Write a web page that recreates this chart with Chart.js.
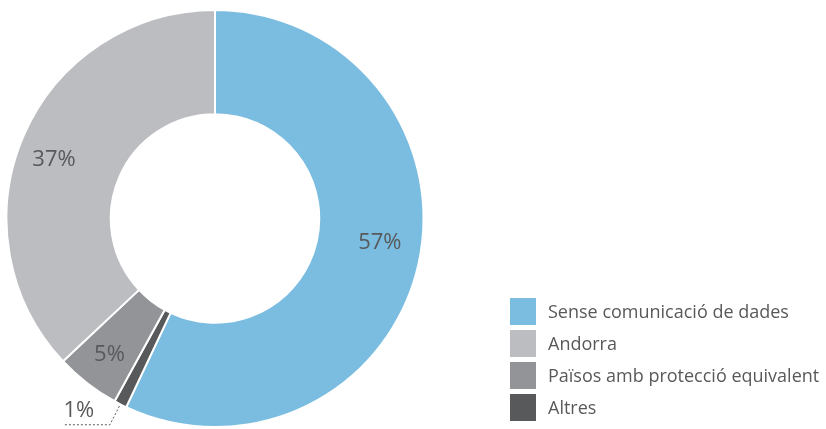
<!DOCTYPE html>
<html>
<head>
<meta charset="utf-8">
<script src="https://cdn.jsdelivr.net/npm/chart.js@4"></script>
<style>
  html, body { margin: 0; padding: 0; background: #fff; }
  #wrap { position: relative; width: 826px; height: 429px; }
  #legend { position: absolute; left: 510px; top: 295px; font-family: "Open Sans", sans-serif; font-size: 18px; color: #58595b; }
  .row { display: flex; align-items: center; height: 32px; }
  .box { width: 26px; height: 27px; margin-right: 12px; }
</style>
</head>
<body>
<div id="wrap">
  <canvas id="donut" width="826" height="429"></canvas>
  <div id="legend"></div>
</div>
<script>
const labels = ["Sense comunicació de dades", "Altres", "Països amb protecció equivalent", "Andorra"];
const values = [57, 1, 5, 37];
const colors = ["#7abde0", "#58595b", "#929497", "#bcbdc0"];
const legendOrder = [0, 3, 2, 1];

const legend = document.getElementById("legend");
legendOrder.forEach(i => {
    const row = document.createElement("div");
    row.className = "row";
    row.innerHTML = `<div class="box" style="background:${colors[i]}"></div><span>${labels[i]}</span>`;
    legend.appendChild(row);
});

// label nudges (px) so the text sits where the original artwork put it
const nudge = [[0, -13], [0, 0], [-2, 3], [-6, 8]];

const pctLabels = {
    id: "pctLabels",
    afterDatasetsDraw(chart) {
        const ctx = chart.ctx;
        const meta = chart.getDatasetMeta(0);
        ctx.save();
        ctx.font = "22px 'Open Sans', sans-serif";
        ctx.fillStyle = "#58595b";
        ctx.textAlign = "center";
        ctx.textBaseline = "middle";
        meta.data.forEach((arc, i) => {
            const mid = (arc.startAngle + arc.endAngle) / 2;
            const txt = values[i] + "%";
            if (values[i] < 3) {
                // small slice: label outside with dotted leader
                const r0 = arc.outerRadius;
                const x0 = arc.x + Math.cos(mid) * (r0 + 2);
                const y0 = arc.y + Math.sin(mid) * (r0 + 2);
                const x1 = arc.x + Math.cos(mid) * (r0 + 23);
                const y1 = arc.y + Math.sin(mid) * (r0 + 23);
                ctx.strokeStyle = "#58595b";
                ctx.lineWidth = 1;
                ctx.setLineDash([2, 2]);
                ctx.beginPath();
                ctx.moveTo(x0, y0);
                ctx.lineTo(x1, y1);
                ctx.lineTo(x1 - 46, y1);
                ctx.stroke();
                ctx.setLineDash([]);
                ctx.fillText(txt, x1 - 31, y1 - 14);
            } else {
                const r = arc.outerRadius * 0.81;
                ctx.fillText(txt, arc.x + Math.cos(mid) * r + nudge[i][0], arc.y + Math.sin(mid) * r + nudge[i][1]);
            }
        });
        ctx.restore();
    }
};

new Chart(document.getElementById("donut"), {
    type: "doughnut",
    data: {
        labels: labels,
        datasets: [{ data: values, backgroundColor: colors, borderColor: "#ffffff", borderWidth: 2 }]
    },
    options: {
        responsive: false,
        animation: false,
        cutout: "50%",
        layout: { padding: { left: 5, top: 9, right: 401, bottom: 1 } },
        plugins: { legend: { display: false }, tooltip: { enabled: false } }
    },
    plugins: [pctLabels]
});
</script>
</body>
</html>
